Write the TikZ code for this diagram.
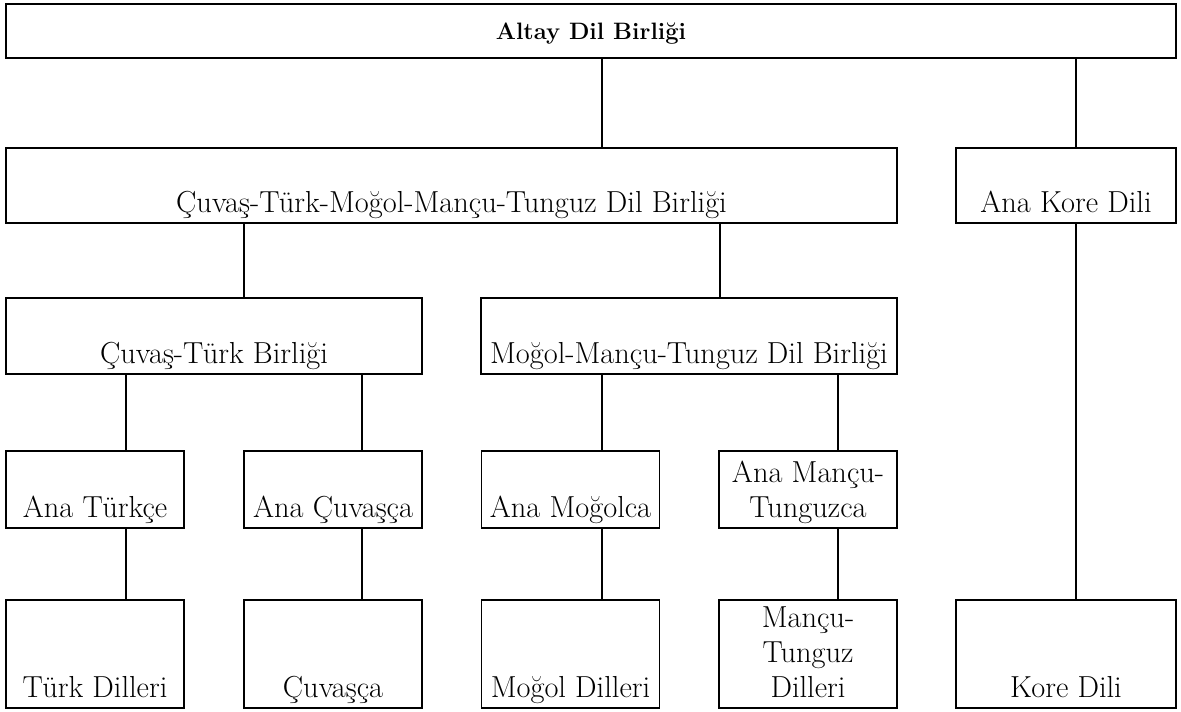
\documentclass[tikz,border=0pt]{standalone}
\usepackage{fontspec}
\usetikzlibrary{positioning}

\begin{document}
\begin{tikzpicture}[
    x=0.02cm, y=-0.02cm,
    box/.style={rectangle, draw, line width=1pt, inner sep=0pt},
    lbl/.style={font=\fontsize{17.3}{20}\selectfont, align=center, inner sep=0pt, anchor=south, execute at end node=\strut},
    line/.style={draw, line width=1pt}
]
\useasboundingbox (0,0) rectangle (1181,711);

% Boxes
\node[box, minimum width=23.4cm, minimum height=1.08cm] (altay) at (591,31) {};
\node[box, minimum width=17.82cm, minimum height=1.5cm] (cuvmog) at (451.5,185.5) {};
\node[box, minimum width=4.4cm, minimum height=1.5cm] (anakore) at (1066,185.5) {};
\node[box, minimum width=8.32cm, minimum height=1.52cm] (cuvtrk) at (214,336) {};
\node[box, minimum width=8.32cm, minimum height=1.52cm] (mogman) at (689,336) {};

\node[box, minimum width=3.56cm, minimum height=1.54cm] (anaturk) at (95,489.5) {};
\node[box, minimum width=3.56cm, minimum height=1.54cm] (anacuv) at (333,489.5) {};
\node[box, minimum width=3.56cm, minimum height=1.54cm] (anamog) at (570.5,489.5) {};
\node[box, minimum width=3.56cm, minimum height=1.54cm] (anaman) at (808,489.5) {};

\node[box, minimum width=3.56cm, minimum height=2.16cm] (turkdil) at (95,654) {};
\node[box, minimum width=3.56cm, minimum height=2.16cm] (cuvdil) at (333,654) {};
\node[box, minimum width=3.56cm, minimum height=2.16cm] (mogdil) at (570.5,654) {};
\node[box, minimum width=3.56cm, minimum height=2.16cm] (mandil) at (808,654) {};
\node[box, minimum width=4.4cm, minimum height=2.16cm] (koredil) at (1066,654) {};

% Texts
\node[font=\fontsize{13.5}{16}\selectfont\bfseries, anchor=base] (altay_t) at (591,39) {Altay Dil Birliği};
\node[lbl] (cuvmog_t) at (cuvmog.south) {Çuvaş-Türk-Moğol-Mançu-Tunguz Dil Birliği};
\node[lbl] (anakore_t) at (anakore.south) {Ana Kore Dili};
\node[lbl] (cuvtrk_t) at (cuvtrk.south) {Çuvaş-Türk Birliği};
\node[lbl] (mogman_t) at (mogman.south) {Moğol-Mançu-Tunguz Dil Birliği};
\node[lbl] (anaturk_t) at (anaturk.south) {Ana Türkçe};
\node[lbl] (anacuv_t) at (anacuv.south) {Ana Çuvaşça};
\node[lbl] (anamog_t) at (anamog.south) {Ana Moğolca};
\node[lbl] (anaman_t) at (anaman.south) {Ana Mançu-\\Tunguzca};
\node[lbl] (turkdil_t) at (turkdil.south) {Türk Dilleri};
\node[lbl] (cuvdil_t) at (cuvdil.south) {Çuvaşça};
\node[lbl] (mogdil_t) at (mogdil.south) {Moğol Dilleri};
\node[lbl] (mandil_t) at (mandil.south) {Mançu-\\Tunguz\\Dilleri};
\node[lbl] (koredil_t) at (koredil.south) {Kore Dili};

% Columns of the lines
\coordinate (turkx) at (126,0);
\coordinate (cuvtrkx) at (244,0);
\coordinate (cuvx) at (362,0);
\coordinate (mogx) at (602,0);
\coordinate (mogmanx) at (720,0);
\coordinate (manx) at (838,0);
\coordinate (korex) at (1076,0);

% Lines
\draw[line] (altay.south -| mogx) -- (cuvmog.north -| mogx);
\draw[line] (altay.south -| korex) -- (anakore.north -| korex);
\draw[line] (cuvmog.south -| cuvtrkx) -- (cuvtrk.north -| cuvtrkx);
\draw[line] (cuvmog.south -| mogmanx) -- (mogman.north -| mogmanx);
\draw[line] (cuvtrk.south -| turkx) -- (anaturk.north -| turkx);
\draw[line] (cuvtrk.south -| cuvx) -- (anacuv.north -| cuvx);
\draw[line] (mogman.south -| mogx) -- (anamog.north -| mogx);
\draw[line] (mogman.south -| manx) -- (anaman.north -| manx);
\draw[line] (anaturk.south -| turkx) -- (turkdil.north -| turkx);
\draw[line] (anacuv.south -| cuvx) -- (cuvdil.north -| cuvx);
\draw[line] (anamog.south -| mogx) -- (mogdil.north -| mogx);
\draw[line] (anaman.south -| manx) -- (mandil.north -| manx);
\draw[line] (anakore.south -| korex) -- (koredil.north -| korex);

\end{tikzpicture}
\end{document}
